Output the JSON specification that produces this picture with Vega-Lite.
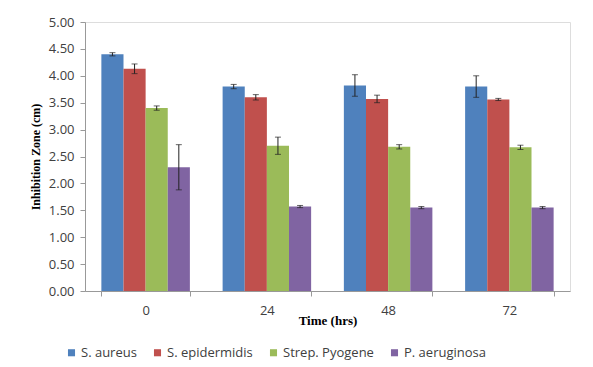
{
  "$schema": "https://vega.github.io/schema/vega-lite/v6.json",
  "width": 485,
  "height": 269,
  "autosize": {"type": "none"},
  "padding": {"left": 85, "top": 22, "right": 23, "bottom": 76},
  "background": "white",
  "data": {
    "values": [
      {"time": "0", "species": "S. aureus", "value": 4.40, "err": 0.03},
      {"time": "0", "species": "S. epidermidis", "value": 4.13, "err": 0.09},
      {"time": "0", "species": "Strep. Pyogene", "value": 3.40, "err": 0.04},
      {"time": "0", "species": "P. aeruginosa", "value": 2.30, "err": 0.42},
      {"time": "24", "species": "S. aureus", "value": 3.80, "err": 0.04},
      {"time": "24", "species": "S. epidermidis", "value": 3.60, "err": 0.05},
      {"time": "24", "species": "Strep. Pyogene", "value": 2.70, "err": 0.16},
      {"time": "24", "species": "P. aeruginosa", "value": 1.57, "err": 0.02},
      {"time": "48", "species": "S. aureus", "value": 3.82, "err": 0.20},
      {"time": "48", "species": "S. epidermidis", "value": 3.57, "err": 0.07},
      {"time": "48", "species": "Strep. Pyogene", "value": 2.68, "err": 0.04},
      {"time": "48", "species": "P. aeruginosa", "value": 1.55, "err": 0.02},
      {"time": "72", "species": "S. aureus", "value": 3.80, "err": 0.20},
      {"time": "72", "species": "S. epidermidis", "value": 3.56, "err": 0.02},
      {"time": "72", "species": "Strep. Pyogene", "value": 2.67, "err": 0.04},
      {"time": "72", "species": "P. aeruginosa", "value": 1.55, "err": 0.02}
    ]
  },
  "encoding": {
    "x": {
      "field": "time",
      "type": "nominal",
      "sort": ["0", "24", "48", "72"],
      "scale": {"paddingInner": 0.27, "paddingOuter": 0.135},
      "axis": {
        "title": "Time (hrs)",
        "titleFont": "Liberation Serif",
        "titleFontSize": 13,
        "titleFontWeight": "bold",
        "titleColor": "#000",
        "titlePadding": -3,
        "labelAngle": 0,
        "labelFont": "Open Sans",
        "labelFontSize": 13,
        "labelColor": "#404040",
        "labelPadding": 8,
        "tickBand": "extent",
        "tickSize": 5,
        "tickColor": "#999",
        "domainColor": "#999"
      }
    },
    "xOffset": {
      "field": "species",
      "type": "nominal",
      "sort": ["S. aureus", "S. epidermidis", "Strep. Pyogene", "P. aeruginosa"],
      "scale": {"paddingInner": 0, "paddingOuter": 0}
    },
    "y": {
      "field": "value",
      "type": "quantitative",
      "scale": {"domain": [0, 5], "nice": false},
      "axis": {
        "title": "Inhibition Zone (cm)",
        "titleFont": "Liberation Serif",
        "titleFontSize": 12,
        "titleFontWeight": "bold",
        "titleColor": "#000",
        "titlePadding": 6,
        "values": [0, 0.5, 1, 1.5, 2, 2.5, 3, 3.5, 4, 4.5, 5],
        "format": ".2f",
        "grid": false,
        "labelOverlap": false,
        "labelFont": "Open Sans",
        "labelFontSize": 13,
        "labelColor": "#404040",
        "labelPadding": 6,
        "tickSize": 5,
        "tickColor": "#999",
        "domainColor": "#999"
      }
    }
  },
  "layer": [
    {
      "mark": {"type": "bar"},
      "encoding": {
        "color": {
          "field": "species",
          "type": "nominal",
          "sort": ["S. aureus", "S. epidermidis", "Strep. Pyogene", "P. aeruginosa"],
          "scale": {
            "domain": ["S. aureus", "S. epidermidis", "Strep. Pyogene", "P. aeruginosa"],
            "range": ["#4F81BD", "#C0504D", "#9BBB59", "#8064A2"]
          },
          "legend": {
            "title": null,
            "orient": "none",
            "direction": "horizontal",
            "legendX": -20,
            "legendY": 324,
            "symbolType": "square",
            "symbolSize": 50,
            "symbolStrokeWidth": 0,
            "labelFont": "Open Sans",
            "labelFontSize": 13,
            "labelColor": "#404040",
            "labelOffset": 3,
            "columnPadding": 14
          }
        }
      }
    },
    {
      "mark": {"type": "errorbar", "color": "#222", "ticks": {"size": 6, "color": "#222"}},
      "encoding": {
        "yError": {"field": "err"}
      }
    }
  ]
}
